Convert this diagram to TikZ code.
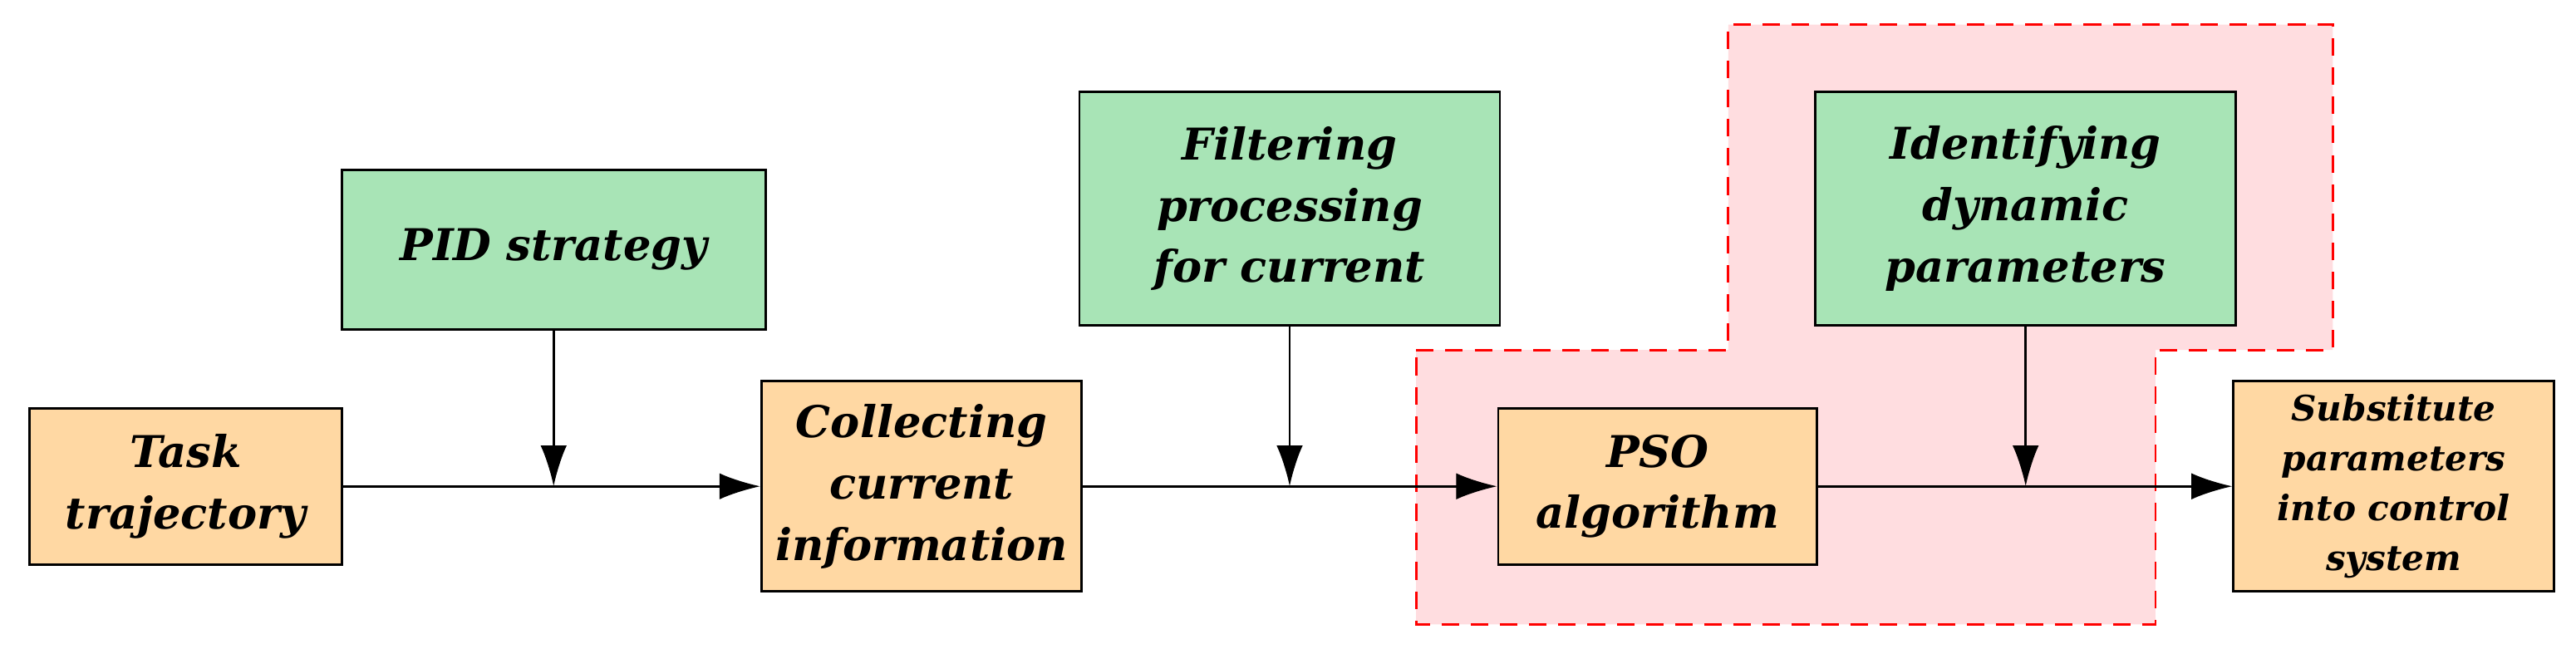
\documentclass[tikz,border=0pt]{standalone}
\usepackage{fontspec}
\setmainfont{DejaVu Serif}
\usetikzlibrary{arrows.meta}
\definecolor{boxgreen}{HTML}{A8E4B6}
\definecolor{boxorange}{HTML}{FFD8A3}
\definecolor{zonepink}{HTML}{FFDDE0}
\tikzset{
    tbox/.style = {align=center, inner sep=0pt, draw=black, thick, font=\fontsize{15}{21}\selectfont\bfseries\itshape},
    gbox/.style = {tbox, fill=boxgreen},
    obox/.style = {tbox, fill=boxorange},
    flow/.style = {thick, -{Latex[length=14pt,width=9pt]}}
}
\begin{document}
\begin{tikzpicture}[x=0.01977cm, y=-0.01977cm]
    \useasboundingbox (0,0) rectangle (1568,395);
    % highlighted zone
    \fill[zonepink] (862,213) -- (1052,213) -- (1052,15) -- (1420,15) -- (1420,213)
        -- (1312,213) -- (1312,380) -- (862,380) -- cycle;
    \draw[red, thick, dashed, dash pattern=on 6pt off 4pt] (862,213) -- (1052,213) -- (1052,15) -- (1420,15)
        -- (1420,213) -- (1312,213) -- (1312,380) -- (862,380) -- cycle;
    % boxes
    \node [obox, minimum width=190*0.01977cm, minimum height=95*0.01977cm] (task) at (113,296) {Task\\trajectory};
    \node [gbox, minimum width=258*0.01977cm, minimum height=97*0.01977cm] (pid) at (337,152) {PID strategy};
    \node [obox, minimum width=195*0.01977cm, minimum height=128*0.01977cm] (collect) at (561,296) {Collecting\\current\\information};
    \node [gbox, minimum width=256*0.01977cm, minimum height=142*0.01977cm] (filter) at (785,127) {Filtering\\processing\\for current};
    \node [obox, minimum width=194*0.01977cm, minimum height=95*0.01977cm] (pso) at (1009,296) {PSO\\algorithm};
    \node [gbox, minimum width=256*0.01977cm, minimum height=142*0.01977cm] (ident) at (1233,127) {Identifying\\dynamic\\parameters};
    \node [obox, minimum width=195*0.01977cm, minimum height=128*0.01977cm, font=\fontsize{12}{17}\selectfont\bfseries\itshape] (subst) at (1457,296) {Substitute\\parameters\\into control\\system};
    % junctions
    \coordinate (j1) at (337,296);
    \coordinate (j2) at (785,296);
    \coordinate (j3) at (1233,296);
    % connectors
    \draw[flow] (task) -- (collect);
    \draw[flow] (collect) -- (pso);
    \draw[flow] (pso) -- (subst);
    \draw[flow] (pid) -- (j1);
    \draw[flow] (filter) -- (j2);
    \draw[flow] (ident) -- (j3);
\end{tikzpicture}
\end{document}
